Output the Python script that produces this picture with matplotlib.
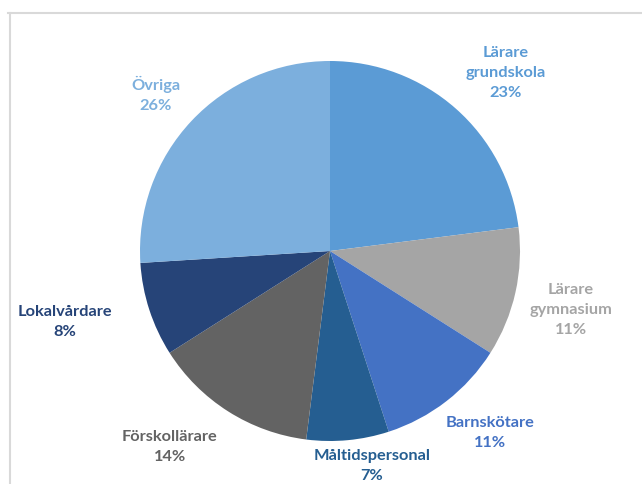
import matplotlib
matplotlib.use('Agg')
import matplotlib.pyplot as plt
from matplotlib.lines import Line2D

# data
labels = ['Lärare\ngrundskola', 'Lärare\ngymnasium', 'Barnskötare', 'Måltidspersonal',
          'Förskollärare', 'Lokalvårdare', 'Övriga']
shares = [23, 11, 11, 7, 14, 8, 26]
colors = ['#5B9BD5', '#A5A5A5', '#4472C4', '#255E91', '#636363', '#264478', '#7CAFDD']

# label centres in pixels (layout only)
lblPix = [(506, 73), (571, 310), (490, 433), (372, 466), (170, 447), (65, 322), (156, 94)]

W, H = 642, 485
cx, cy, R = 330, 252, 190

fig = plt.figure(figsize=(W/100, H/100), dpi=100)
ax = fig.add_axes([0, 0, 1, 1])
ax.set_aspect('equal')
ax.axis('off')

ax.pie(shares, colors=colors, startangle=90, counterclock=False, radius=1,
       center=(0, 0), wedgeprops=dict(linewidth=0))
ax.set_xlim(-cx/R, (W-cx)/R)
ax.set_ylim((cy-H)/R, cy/R)

for i in range(len(labels)):
    px, py = lblPix[i]
    ax.text((px-cx)/R, (cy-py)/R, labels[i] + '\n' + str(shares[i]) + '%',
            ha='center', va='center', color=colors[i], fontsize=11.8,
            fontweight='bold', family='Lato', linespacing=1.55)

# frame lines like the original screenshot
fig.add_artist(Line2D([8/W, 1], [1-13.5/H, 1-13.5/H], transform=fig.transFigure,
                      color='#D9D9D9', lw=1.5))
fig.add_artist(Line2D([9.5/W, 9.5/W], [0, 1-13.5/H], transform=fig.transFigure,
                      color='#D9D9D9', lw=1.5))

fig.savefig('out.png', dpi=100)
